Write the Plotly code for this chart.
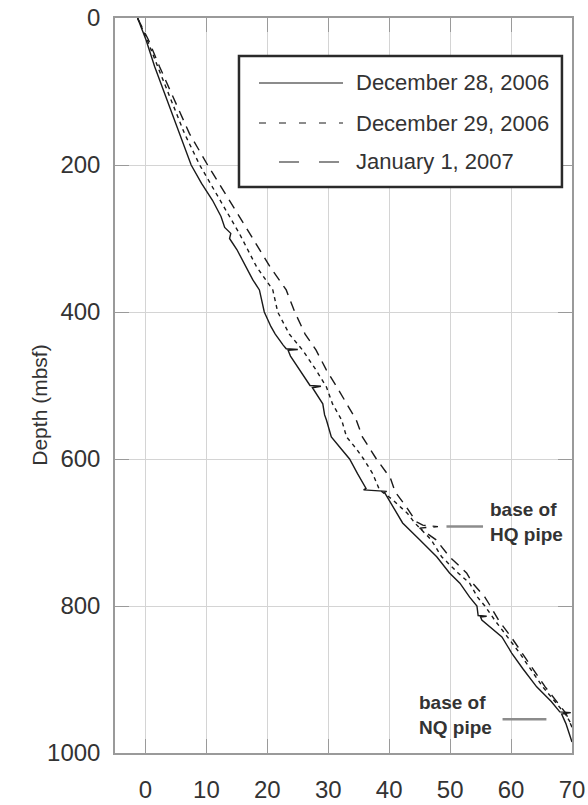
import plotly.graph_objects as go

# ---------------- data ----------------
series_names = ["December 28, 2006", "December 29, 2006", "January 1, 2007"]

dec28_depth = [0, 30, 66, 112, 157, 200, 225, 248, 270, 285, 293, 300, 315, 338, 356, 370,
               400, 420, 430, 445, 450, 451, 452, 460, 479, 495, 500, 501, 503, 525, 540,
               547, 570, 585, 600, 620, 640, 642, 644, 645, 665, 687, 710, 733, 755, 769,
               788, 800, 813, 814, 815, 819, 842, 864, 886, 910, 930, 944, 945, 947, 960,
               978, 985]
dec28_temp = [-1.3, 0.1, 1.5, 3.6, 5.6, 7.5, 9.2, 11.0, 12.4, 13.0, 14.0, 13.8, 15.0, 16.5,
              17.6, 18.7, 19.5, 20.6, 21.3, 22.6, 23.1, 25.0, 23.4, 23.8, 25.3, 26.6, 27.0,
              28.8, 27.4, 29.1, 29.4, 29.7, 30.5, 32.0, 33.5, 34.8, 36.2, 35.8, 39.6, 39.2,
              40.6, 42.2, 45.0, 47.8, 49.9, 51.6, 53.2, 54.4, 54.6, 56.0, 55.0, 55.2, 58.5,
              60.1, 62.0, 64.2, 66.6, 68.0, 69.8, 68.3, 69.0, 69.8, 70.0]

dec29_depth = [0, 30, 66, 112, 157, 200, 248, 293, 338, 356, 370, 400, 430, 452, 479, 502,
               525, 547, 570, 585, 600, 620, 642, 655, 674, 687, 710, 733, 755, 769, 788,
               800, 819, 842, 864, 886, 910, 930, 946, 962]
dec29_temp = [-1.3, 0.3, 2.0, 4.2, 6.4, 8.9, 12.2, 15.4, 18.2, 19.8, 20.9, 21.7, 23.6, 25.8,
              28.0, 29.7, 30.7, 32.2, 33.0, 34.5, 35.8, 37.3, 38.4, 40.5, 43.0, 44.2, 46.9,
              48.6, 51.3, 53.2, 54.5, 55.7, 57.3, 59.4, 61.4, 63.2, 65.2, 67.2, 68.8, 70.0]

jan1_depth = [0, 30, 66, 112, 157, 200, 248, 293, 338, 370, 400, 430, 452, 479, 502, 525,
              547, 570, 600, 626, 645, 665, 685, 690, 692, 694, 710, 733, 755, 769, 788,
              800, 820, 842, 864, 886, 910, 946, 965]
jan1_temp = [-1.3, 0.5, 2.3, 4.8, 7.2, 10.2, 13.8, 17.1, 20.4, 23.1, 24.5, 26.2, 28.0, 29.7,
             31.4, 33.0, 34.6, 35.6, 37.9, 40.2, 41.0, 42.8, 44.4, 45.5, 48.0, 45.0, 47.7,
             49.9, 52.7, 53.7, 55.7, 56.6, 58.0, 60.0, 61.8, 63.6, 65.6, 69.0, 70.0]

x_ticks = [0, 10, 20, 30, 40, 50, 60, 70]
y_ticks = [0, 200, 400, 600, 800, 1000]
y_title = "Depth (mbsf)"

# annotation anchors (data units)
hq_label = "base of<br>HQ pipe"
hq_depth = 692
hq_line_x = [49.4, 55.4]
hq_text_x = 56.2
nq_label = "base of<br>NQ pipe"
nq_depth = 954
nq_line_x = [58.6, 65.8]
nq_text_x = 44.5

# ---------------- styling ----------------
FONT = "Liberation Sans, Arial, sans-serif"
TXT = "#333333"
CURVE = "#1a1a1a"
GRAY = "#8c8c8c"

fig = go.Figure()
depths = [dec28_depth, dec29_depth, jan1_depth]
temps = [dec28_temp, dec29_temp, jan1_temp]
dashes = ["solid", "4px,4px", "10px,7px"]
for name, d, t, dash in zip(series_names, depths, temps, dashes):
    fig.add_trace(go.Scatter(x=t, y=d, mode="lines", name=name,
                             line=dict(color=CURVE, width=1.4, dash=dash),
                             showlegend=False))

axis_common = dict(showgrid=True, gridcolor="#d4d4d4", gridwidth=1,
                   showline=True, linecolor="#9a9a9a", linewidth=1.5, mirror="ticks",
                   ticks="inside", ticklen=14, tickcolor="#9a9a9a", tickwidth=1,
                   zeroline=False, automargin=False, ticklabeloverflow="allow",
                   tickfont=dict(family=FONT, size=24, color=TXT))

fig.update_layout(
    width=588, height=805,
    margin=dict(l=115, r=16, t=18, b=52, autoexpand=False),
    paper_bgcolor="white", plot_bgcolor="white",
    xaxis=dict(range=[-5, 70], tickvals=x_ticks, ticklabelstandoff=14, **axis_common),
    yaxis=dict(range=[1000, 0], tickvals=y_ticks, ticklabelstandoff=8, **axis_common),
    showlegend=False,
)

# y-axis title
fig.add_annotation(xref="paper", yref="paper", x=-0.195, y=0.473, text=y_title,
                   textangle=-90, showarrow=False,
                   font=dict(family=FONT, size=21, color=TXT))

# custom legend (box, line samples, labels)
lx0, lx1, ly0, ly1 = 0.2713, 0.978, 0.770, 0.9483
fig.add_shape(type="rect", xref="paper", yref="paper", x0=lx0, x1=lx1, y0=ly0, y1=ly1,
              line=dict(color="#2a2a2a", width=2.5), fillcolor="white", layer="above")
row_y = [0.9116, 0.8571, 0.8041]
sample_x = [(0.3151, 0.4989), (0.3151, 0.4989), (0.3589, 0.4902)]
sample_dash = ["solid", "7px,13px", "20px,20px"]
for name, yy, (sx0, sx1), dsh in zip(series_names, row_y, sample_x, sample_dash):
    fig.add_shape(type="line", xref="paper", yref="paper", x0=sx0, x1=sx1, y0=yy, y1=yy,
                  line=dict(color=GRAY, width=2, dash=dsh), layer="above")
    fig.add_annotation(xref="paper", yref="paper", x=0.523, y=yy, text=name,
                       xanchor="left", yanchor="middle", showarrow=False,
                       font=dict(family=FONT, size=22, color=TXT))

# pipe annotations
for label, dep, lx, tx in [(hq_label, hq_depth, hq_line_x, hq_text_x),
                           (nq_label, nq_depth, nq_line_x, nq_text_x)]:
    fig.add_shape(type="line", xref="x", yref="y", x0=lx[0], x1=lx[1], y0=dep, y1=dep,
                  line=dict(color=GRAY, width=2.5))
    fig.add_annotation(xref="x", yref="y", x=tx, y=dep - 6, text="<b>" + label + "</b>",
                       xanchor="left", yanchor="middle", align="left", showarrow=False,
                       font=dict(family=FONT, size=19, color=TXT))

# remove the default 8px page margin so the figure fills the window exactly
fig.write_html("out.html",
               config={"displayModeBar": False},
               post_script="document.body.style.margin='0';document.body.style.overflow='hidden';")
